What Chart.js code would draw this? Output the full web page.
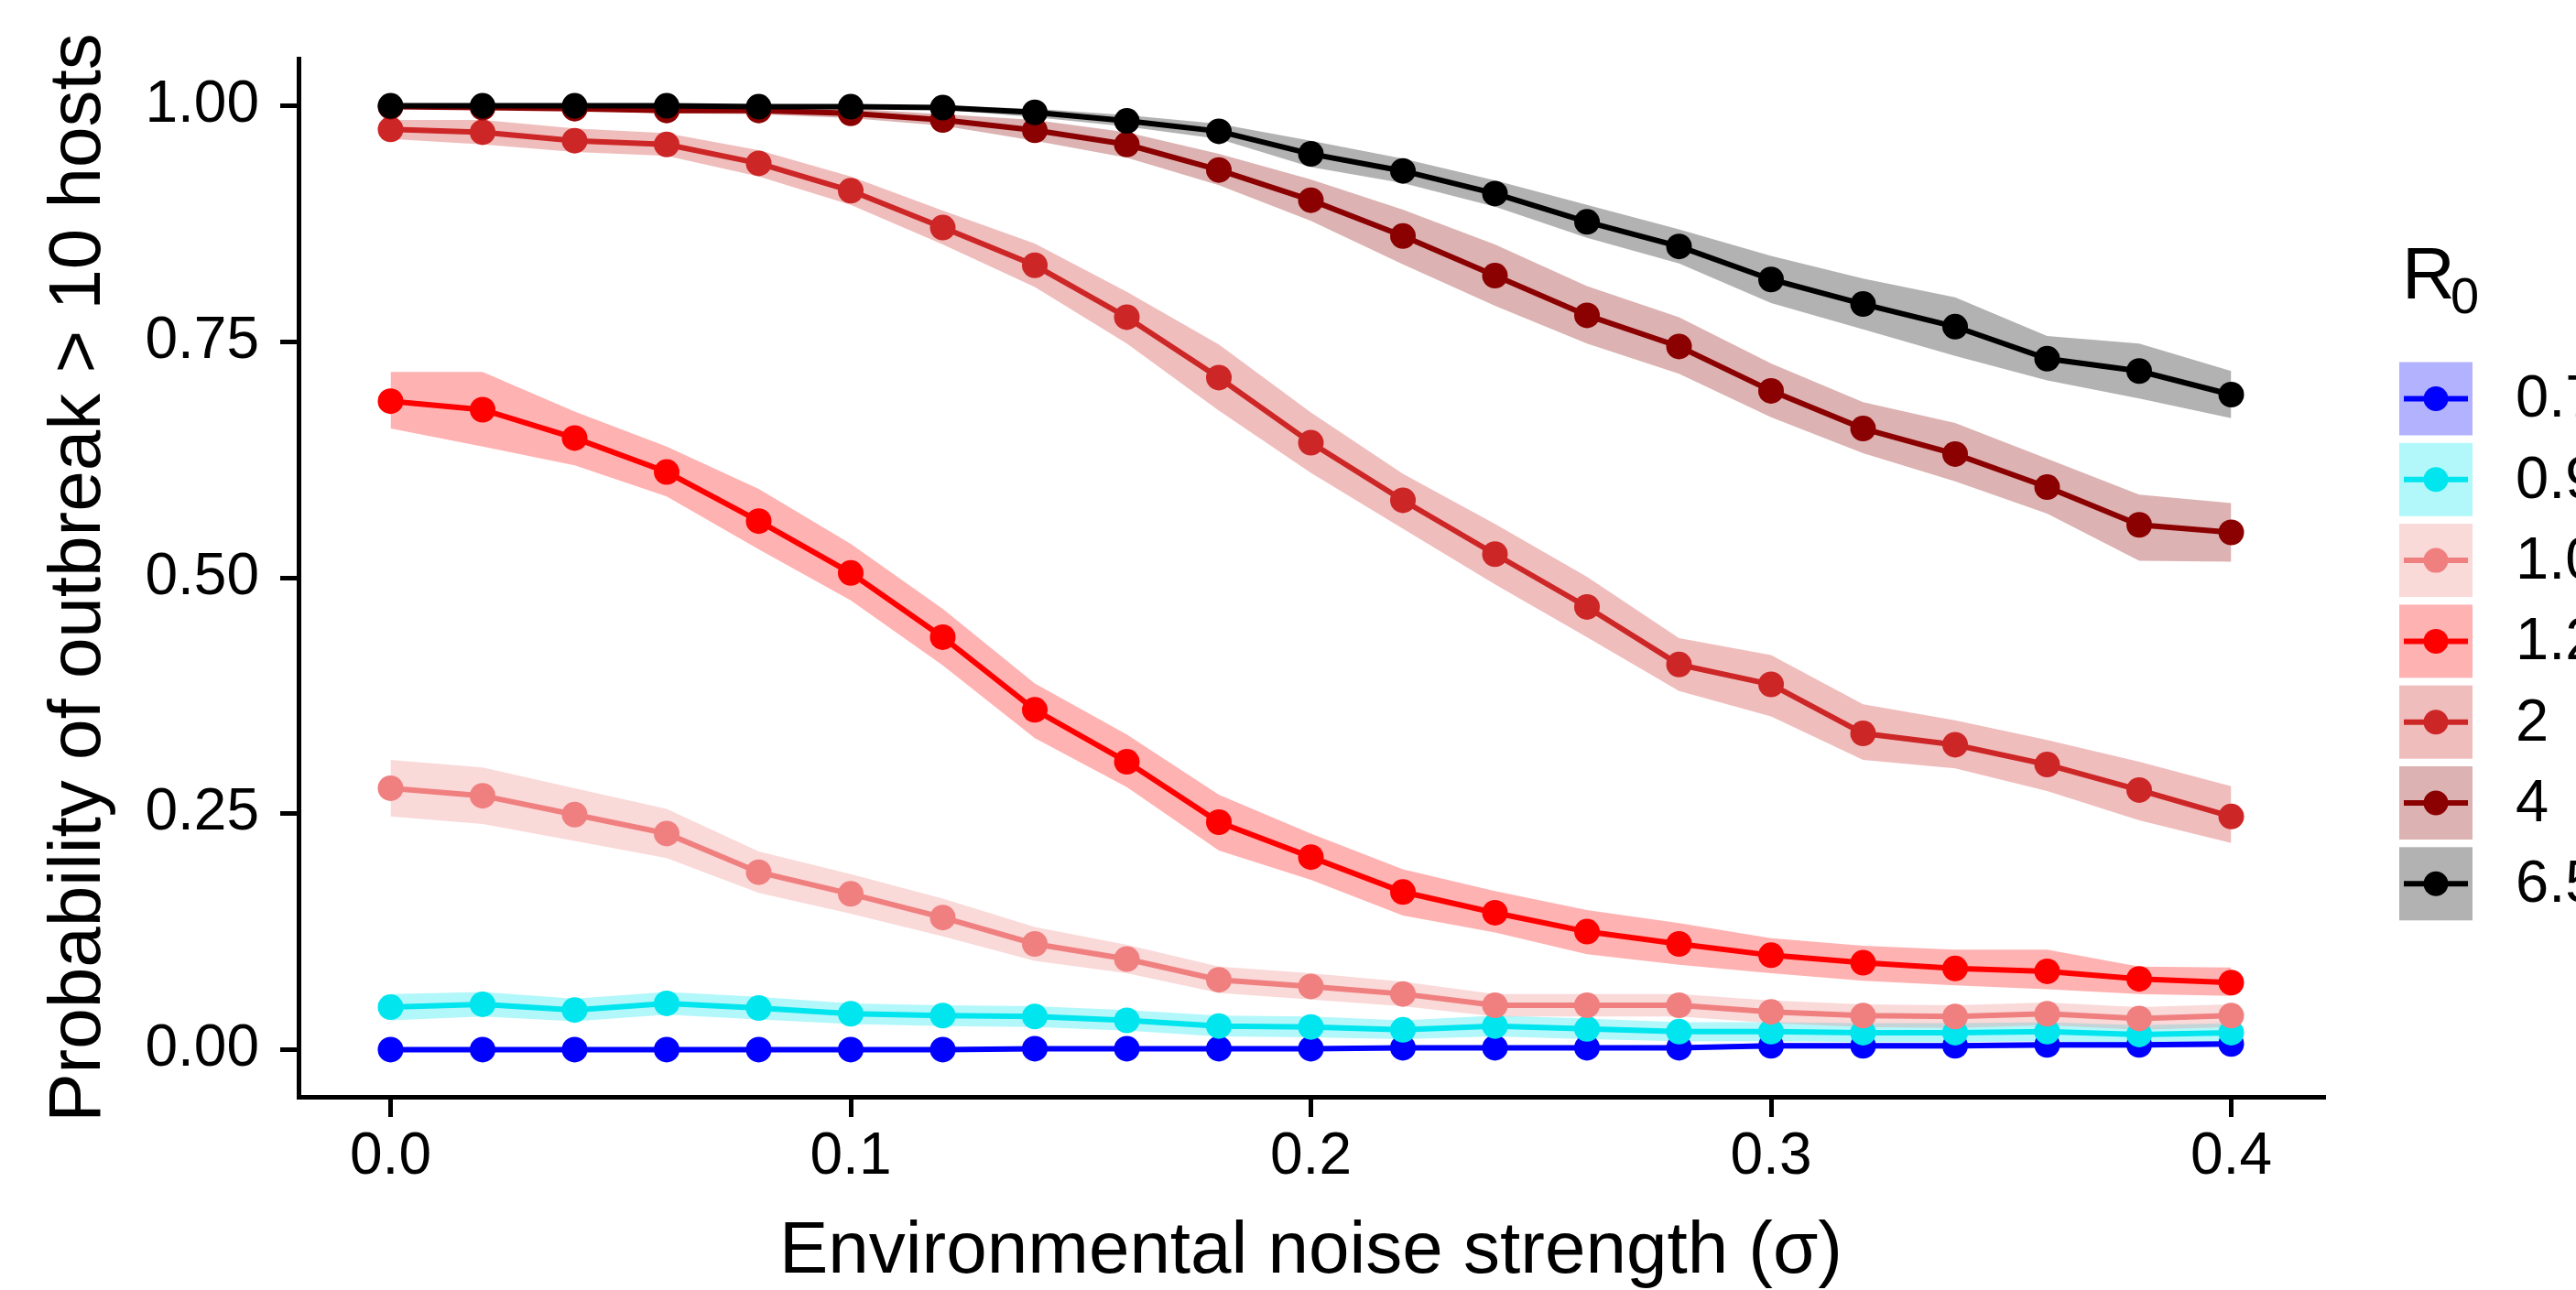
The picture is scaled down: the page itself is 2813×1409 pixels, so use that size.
<!DOCTYPE html>
<html>
<head>
<meta charset="utf-8">
<title>Probability of outbreak</title>
<script src="https://cdn.jsdelivr.net/npm/chart.js@4.4.0/dist/chart.umd.min.js"></script>
<style>
  body { margin: 0; background: #ffffff; }
  #chartBox { width: 2813px; height: 1409px; }
</style>
</head>
<body>
<div id="chartBox"><canvas id="outbreakChart" width="2813" height="1409"></canvas></div>
<script>
// chart data start

const sigma = [0, 0.02, 0.04, 0.06, 0.08, 0.10, 0.12, 0.14, 0.16, 0.18, 0.20,
  0.22, 0.24, 0.26, 0.28, 0.30, 0.32, 0.34, 0.36, 0.38, 0.40];

const r0Labels = ["0.7", "0.9", "1.0", "1.2", "2", "4", "6.5"];
const r0Colors = ["#0000FF", "#00E5EE", "#F08080", "#FF0000", "#CD2626", "#8B0000", "#000000"];
const bandColors = ["rgba(0,0,255,0.3)", "rgba(0,229,238,0.3)", "rgba(240,128,128,0.3)",
  "rgba(255,0,0,0.3)", "rgba(205,38,38,0.3)", "rgba(139,0,0,0.3)", "rgba(0,0,0,0.3)"];

const yTicks = [0, 0.25, 0.5, 0.75, 1.0];
const xTicks = [0, 0.1, 0.2, 0.3, 0.4];

// R0 = 0.7
const mean07 = [0, 0, 0, 0, 0, 0, 0, 0.001, 0.001, 0.001, 0.001, 0.002, 0.002, 0.002, 0.002, 0.004, 0.004, 0.004, 0.005, 0.005, 0.006];
const low07 = [0, 0, 0, 0, 0, 0, 0, 0, 0, 0, 0, 0, 0, 0, 0, 0.001, 0.001, 0.001, 0.002, 0.002, 0.003];
const high07 = [0.002, 0.002, 0.002, 0.002, 0.002, 0.002, 0.002, 0.003, 0.003, 0.003, 0.003, 0.004, 0.004, 0.004, 0.004, 0.007, 0.007, 0.007, 0.008, 0.008, 0.009];

// R0 = 0.9
const mean09 = [0.045, 0.048, 0.042, 0.049, 0.044, 0.038, 0.036, 0.035, 0.031, 0.025, 0.024, 0.021, 0.025, 0.022, 0.019, 0.019, 0.018, 0.018, 0.019, 0.016, 0.018];
const low09 = [0.031, 0.035, 0.030, 0.037, 0.032, 0.027, 0.025, 0.024, 0.020, 0.014, 0.013, 0.011, 0.014, 0.011, 0.009, 0.009, 0.008, 0.008, 0.009, 0.006, 0.008];
const high09 = [0.059, 0.061, 0.054, 0.061, 0.056, 0.049, 0.047, 0.046, 0.042, 0.036, 0.035, 0.031, 0.036, 0.033, 0.029, 0.029, 0.028, 0.028, 0.029, 0.026, 0.028];

// R0 = 1.0
const mean10 = [0.277, 0.269, 0.249, 0.229, 0.188, 0.165, 0.140, 0.112, 0.096, 0.074, 0.067, 0.059, 0.047, 0.047, 0.047, 0.040, 0.036, 0.035, 0.038, 0.033, 0.036];
const low10 = [0.247, 0.239, 0.221, 0.203, 0.166, 0.144, 0.120, 0.094, 0.081, 0.060, 0.053, 0.046, 0.035, 0.035, 0.035, 0.028, 0.024, 0.023, 0.026, 0.021, 0.024];
const high10 = [0.307, 0.299, 0.277, 0.255, 0.210, 0.186, 0.160, 0.130, 0.111, 0.088, 0.081, 0.072, 0.059, 0.059, 0.059, 0.052, 0.048, 0.047, 0.050, 0.045, 0.048];

// R0 = 1.2
const mean12 = [0.687, 0.678, 0.648, 0.612, 0.560, 0.505, 0.437, 0.360, 0.305, 0.241, 0.204, 0.167, 0.145, 0.125, 0.112, 0.100, 0.092, 0.086, 0.083, 0.075, 0.071];
const low12 = [0.658, 0.639, 0.619, 0.586, 0.530, 0.476, 0.407, 0.330, 0.278, 0.211, 0.180, 0.142, 0.124, 0.101, 0.090, 0.081, 0.073, 0.068, 0.064, 0.059, 0.057];
const high12 = [0.718, 0.718, 0.676, 0.639, 0.594, 0.536, 0.467, 0.388, 0.334, 0.270, 0.229, 0.191, 0.168, 0.148, 0.134, 0.118, 0.110, 0.106, 0.106, 0.088, 0.087];

// R0 = 2
const mean2 = [0.975, 0.972, 0.963, 0.959, 0.939, 0.910, 0.871, 0.831, 0.776, 0.712, 0.643, 0.582, 0.525, 0.469, 0.408, 0.387, 0.335, 0.323, 0.302, 0.275, 0.247];
const low2 = [0.965, 0.959, 0.951, 0.947, 0.925, 0.895, 0.853, 0.808, 0.748, 0.677, 0.611, 0.552, 0.493, 0.437, 0.380, 0.353, 0.307, 0.298, 0.274, 0.243, 0.219];
const high2 = [0.985, 0.985, 0.976, 0.971, 0.953, 0.925, 0.889, 0.854, 0.803, 0.747, 0.675, 0.610, 0.557, 0.501, 0.436, 0.418, 0.366, 0.349, 0.328, 0.305, 0.279];

// R0 = 4
const mean4 = [0.999, 0.998, 0.997, 0.995, 0.995, 0.992, 0.985, 0.974, 0.959, 0.932, 0.900, 0.862, 0.820, 0.778, 0.745, 0.698, 0.658, 0.631, 0.596, 0.556, 0.548];
const low4 = [0.997, 0.996, 0.995, 0.992, 0.991, 0.987, 0.979, 0.963, 0.945, 0.916, 0.878, 0.832, 0.788, 0.748, 0.716, 0.670, 0.632, 0.602, 0.568, 0.518, 0.517];
const high4 = [1.0, 1.0, 0.999, 0.998, 0.999, 0.997, 0.991, 0.985, 0.972, 0.949, 0.922, 0.890, 0.853, 0.809, 0.776, 0.727, 0.686, 0.664, 0.626, 0.588, 0.579];

// R0 = 6.5
const mean65 = [1.0, 1.0, 1.0, 1.0, 0.999, 0.999, 0.998, 0.993, 0.984, 0.973, 0.949, 0.931, 0.907, 0.877, 0.851, 0.816, 0.790, 0.766, 0.732, 0.719, 0.694];
const low65 = [1.0, 1.0, 1.0, 1.0, 0.998, 0.998, 0.996, 0.988, 0.978, 0.965, 0.935, 0.918, 0.893, 0.860, 0.833, 0.791, 0.763, 0.735, 0.709, 0.690, 0.669];
const high65 = [1.0, 1.0, 1.0, 1.0, 1.0, 1.0, 1.0, 0.997, 0.990, 0.981, 0.963, 0.944, 0.921, 0.895, 0.869, 0.841, 0.817, 0.797, 0.756, 0.748, 0.719];

const means = [mean07, mean09, mean10, mean12, mean2, mean4, mean65];
const lows = [low07, low09, low10, low12, low2, low4, low65];
const highs = [high07, high09, high10, high12, high2, high4, high65];

// chart data end

const fontFamily = "'Liberation Sans', Arial, Helvetica, sans-serif";

function toPoints(values) {
  return sigma.map((s, k) => ({ x: s, y: values[k] }));
}

// ribbons first, then lines, then dots (like ggplot layering)
let datasets = [];
for (let i = 0; i < means.length; i++) {
  datasets.push({
    label: "band-high-" + r0Labels[i],
    data: toPoints(highs[i]),
    borderWidth: 0,
    pointRadius: 0,
    backgroundColor: bandColors[i],
    fill: "+1",
    order: 300 - i,
  });
  datasets.push({
    label: "band-low-" + r0Labels[i],
    data: toPoints(lows[i]),
    borderWidth: 0,
    pointRadius: 0,
    fill: false,
    order: 300 - i,
  });
}
for (let i = 0; i < means.length; i++) {
  datasets.push({
    label: "line-" + r0Labels[i],
    data: toPoints(means[i]),
    borderColor: r0Colors[i],
    borderWidth: 6,
    pointRadius: 0,
    fill: false,
    tension: 0,
    order: 200 - i,
  });
}
for (let i = 0; i < means.length; i++) {
  datasets.push({
    label: r0Labels[i],
    data: toPoints(means[i]),
    showLine: false,
    pointRadius: 14,
    pointBackgroundColor: r0Colors[i],
    pointBorderColor: r0Colors[i],
    pointBorderWidth: 0,
    fill: false,
    order: 100 - i,
  });
}

// legend on the right, drawn by hand (ggplot style keys)
const r0Legend = {
  id: "r0Legend",
  afterDraw(chart) {
    const ctx = chart.ctx;
    ctx.save();
    ctx.fillStyle = "#000000";
    ctx.textBaseline = "alphabetic";
    ctx.textAlign = "left";
    ctx.font = "80px " + fontFamily;
    ctx.fillText("R", 2623, 326);
    ctx.font = "56px " + fontFamily;
    ctx.fillText("0", 2676, 342);

    for (let i = 0; i < r0Labels.length; i++) {
      const top = 395.5 + i * 88.3;
      const cy = top + 40;
      ctx.fillStyle = bandColors[i];
      ctx.fillRect(2620, top, 80, 80);
      ctx.strokeStyle = r0Colors[i];
      ctx.lineWidth = 6;
      ctx.beginPath();
      ctx.moveTo(2625, cy);
      ctx.lineTo(2695, cy);
      ctx.stroke();
      ctx.fillStyle = r0Colors[i];
      ctx.beginPath();
      ctx.arc(2660, cy, 13.5, 0, Math.PI * 2);
      ctx.fill();
      ctx.fillStyle = "#000000";
      ctx.font = "65px " + fontFamily;
      ctx.textBaseline = "middle";
      ctx.fillText(r0Labels[i], 2747, cy + 2);
    }
    ctx.restore();
  },
};

try {
  const ctx = document.getElementById("outbreakChart").getContext("2d");
  new Chart(ctx, {
    type: "line",
    data: { datasets: datasets },
    plugins: [r0Legend],
    options: {
      responsive: false,
      animation: false,
      events: [],
      devicePixelRatio: 1,
      layout: {
        padding: { top: 64, right: 276, left: 0, bottom: 0 },
      },
      plugins: {
        legend: { display: false },
        tooltip: { enabled: false },
      },
      scales: {
        x: {
          type: "linear",
          min: -0.02,
          max: 0.42,
          afterBuildTicks: (scale) => {
            scale.ticks = xTicks.map((v) => ({ value: v }));
          },
          afterFit: (scale) => {
            scale.height = 211;
          },
          ticks: {
            color: "#000000",
            padding: 6,
            maxRotation: 0,
            font: { family: fontFamily, size: 64 },
            callback: (v) => Number(v).toFixed(1),
          },
          grid: {
            drawOnChartArea: false,
            drawTicks: true,
            tickLength: 22,
            color: "#000000",
            lineWidth: 5,
          },
          border: { display: true, color: "#000000", width: 5 },
          title: {
            display: true,
            text: "Environmental noise strength (σ)",
            color: "#000000",
            font: { family: fontFamily, size: 80, lineHeight: 1 },
            padding: { top: 0, bottom: 1 },
          },
        },
        y: {
          type: "linear",
          min: -0.05,
          max: 1.05,
          afterBuildTicks: (scale) => {
            scale.ticks = yTicks.map((v) => ({ value: v }));
          },
          afterFit: (scale) => {
            scale.width = 326;
          },
          ticks: {
            color: "#000000",
            padding: 23,
            font: { family: fontFamily, size: 64 },
            callback: (v) => Number(v).toFixed(2),
          },
          grid: {
            drawOnChartArea: false,
            drawTicks: true,
            tickLength: 20,
            color: "#000000",
            lineWidth: 5,
          },
          border: { display: true, color: "#000000", width: 5 },
          title: {
            display: true,
            text: "Probability of outbreak > 10 hosts",
            color: "#000000",
            font: { family: fontFamily, size: 80, lineHeight: 1 },
            padding: { top: 47, bottom: 0 },
          },
        },
      },
    },
  });
} catch (error) {
  console.error("Error" + error);
}
</script>
</body>
</html>
